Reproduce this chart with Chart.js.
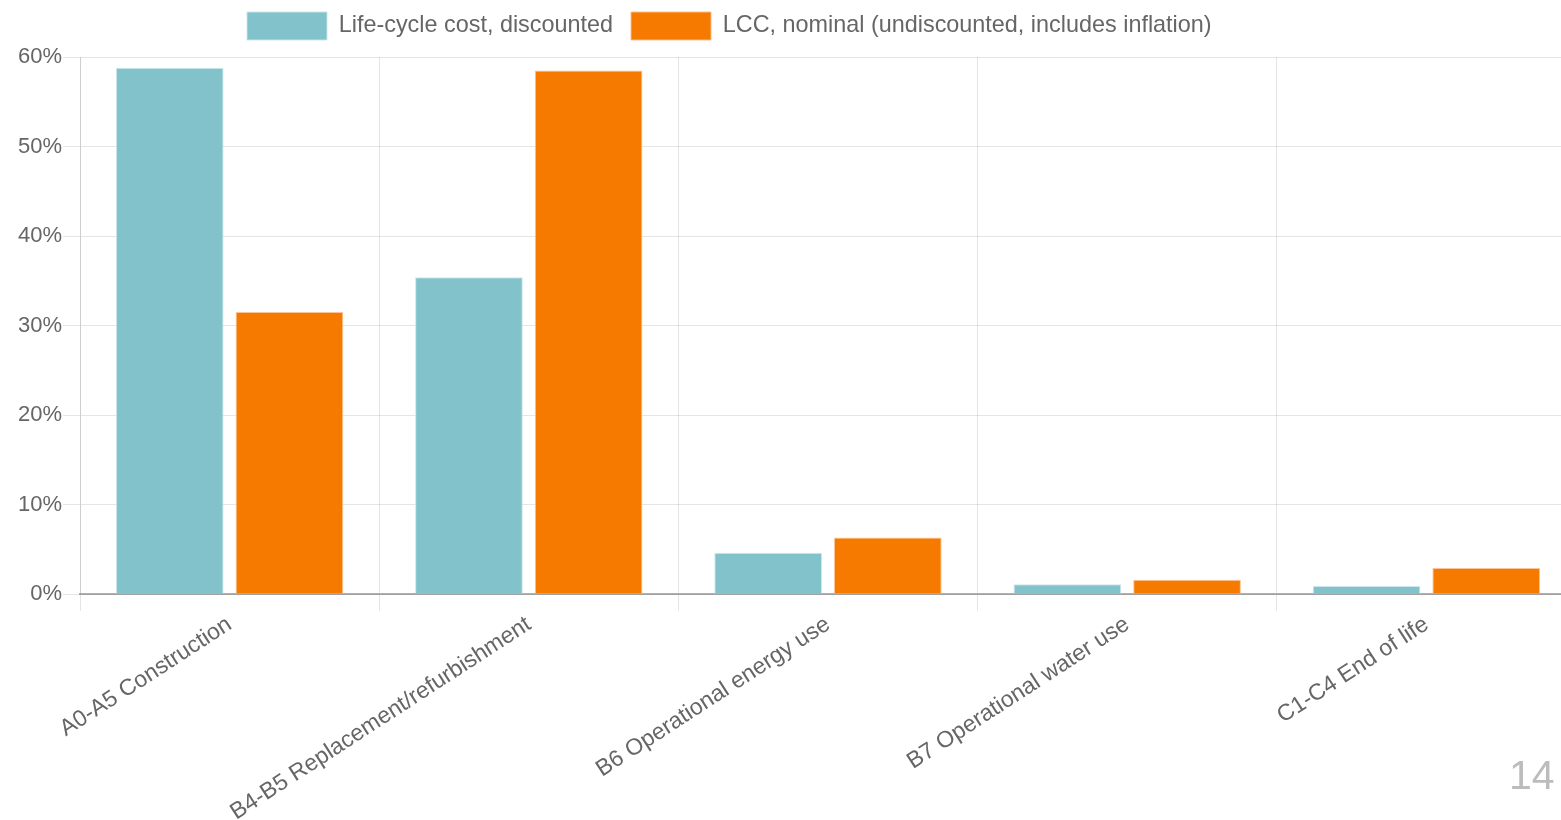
<!DOCTYPE html>
<html>
<head>
<meta charset="utf-8">
<script src="https://cdn.jsdelivr.net/npm/chart.js@4.4.1/dist/chart.umd.min.js"></script>
<style>
  html, body { margin: 0; padding: 0; background: #fff; overflow: hidden; width: 1561px; height: 820px; }
  #wrap { position: absolute; left: 0; top: 0; width: 1580px; height: 820px; }
  #page { position: absolute; left: 1509px; top: 752px; font: 300 41px "Liberation Sans", Arial, sans-serif; color: #bcbcbc; }
</style>
</head>
<body>
<div id="wrap"><canvas id="c"></canvas></div>
<div id="page">14</div>
<script>
// Life-cycle cost share per stage (%)
const categories = [
  'A0-A5 Construction',
  'B4-B5 Replacement/refurbishment',
  'B6 Operational energy use',
  'B7 Operational water use',
  'C1-C4 End of life'
];
const seriesNames = [
  'Life-cycle cost, discounted',
  'LCC, nominal (undiscounted, includes inflation)'
];
const discounted = [58.8, 35.4, 4.6, 1.1, 0.9];
const nominal = [31.5, 58.5, 6.3, 1.6, 2.9];
const yTickValues = [0, 10, 20, 30, 40, 50, 60];

const FONT = '"Liberation Sans", Arial, Helvetica, sans-serif';
const TEXT = '#666';
const GRID = 'rgba(0,0,0,0.1)';

// Fixes the legend band height and places its row of items
const legendPlacement = {
  id: 'legendPlacement',
  afterInit(chart) {
    const lg = chart.legend;
    const baseFit = lg.fit;
    lg.fit = function () { baseFit.call(this); this.height = 57; };
  },
  afterLayout(chart) {
    const lg = chart.legend;
    const pad = lg.options.labels.padding;
    const w = lg.right - lg.left;
    lg.left = 247 - pad;
    lg.right = lg.left + w;
    lg.top = 12 - pad;
  }
};

new Chart(document.getElementById('c'), {
  type: 'bar',
  data: {
    labels: categories,
    datasets: [
      {
        label: seriesNames[0],
        data: discounted,
        backgroundColor: '#82c3cb',
        borderColor: 'rgba(200,230,234,0.9)',
        borderWidth: 1
      },
      {
        label: seriesNames[1],
        data: nominal,
        backgroundColor: '#f77a00',
        borderColor: 'rgba(252,190,140,0.9)',
        borderWidth: 1
      }
    ]
  },
  options: {
    responsive: true,
    maintainAspectRatio: false,
    devicePixelRatio: 1,
    animation: false,
    layout: { padding: { left: 0, right: 4, top: 0, bottom: 0 } },
    plugins: {
      legend: {
        position: 'top',
        align: 'start',
        labels: {
          boxWidth: 80,
          boxHeight: 28,
          padding: 18,
          color: TEXT,
          font: { family: FONT, size: 23.4 }
        }
      },
      tooltip: { enabled: false }
    },
    scales: {
      x: {
        grid: { color: GRID, tickLength: 17, offset: true },
        border: { color: 'rgba(0,0,0,0.3)', width: 2 },
        ticks: {
          color: TEXT,
          font: { family: FONT, size: 23 },
          minRotation: 33,
          maxRotation: 33,
          padding: 0,
          autoSkip: false
        },
        afterFit(scale) { scale.height = 226; }
      },
      y: {
        min: 0,
        max: 60,
        afterBuildTicks(scale) { scale.ticks = yTickValues.map(v => ({ value: v })); },
        grid: {
          color: GRID,
          tickLength: 17
        },
        border: { color: GRID },
        ticks: {
          color: TEXT,
          font: { family: FONT, size: 22 },
          padding: 1,
          callback: v => v + '%'
        },
        afterFit(scale) { scale.width = 80; }
      }
    }
  },
  plugins: [legendPlacement]
});
</script>
</body>
</html>
